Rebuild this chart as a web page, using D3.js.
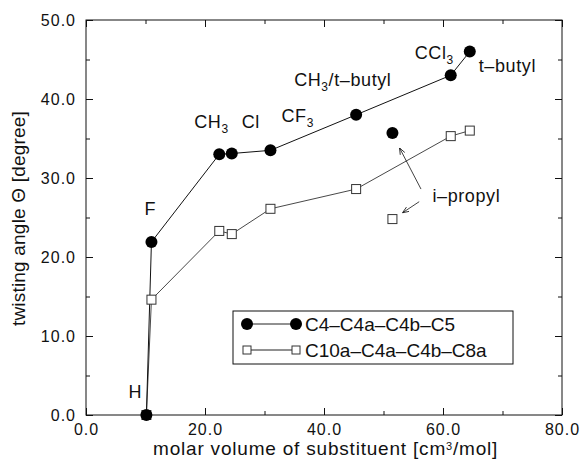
<!DOCTYPE html>
<html>
<head>
<meta charset="utf-8">
<script src="https://cdn.jsdelivr.net/npm/d3@7"></script>
<style>
  body { margin: 0; background: #fff; }
  svg text { font-family: "Liberation Sans", Arial, sans-serif; fill: #111; }
</style>
</head>
<body>
<div id="chart"></div>
<script>
// substituents and their molar volumes (cm3/mol)
const substituents = ["H", "F", "CH3", "Cl", "CF3", "CH3/t-butyl", "CCl3", "t-butyl"];
const molarVolume = [10.15, 11.0, 22.4, 24.5, 31.0, 45.4, 61.3, 64.5];
// twisting angles (degree)
const angleC4C5 = [0.0, 21.9, 33.0, 33.1, 33.5, 38.0, 43.0, 46.0];
const angleC10aC8a = [0.0, 14.6, 23.3, 22.9, 26.1, 28.6, 35.3, 36.0];
// i-propyl, not part of the connected line
const ipropylVolume = 51.5;
const ipropylC4C5 = 35.7;
const ipropylC10aC8a = 24.8;

const xTicks = [0, 20, 40, 60, 80];
const yTicks = [0, 10, 20, 30, 40, 50];
const seriesNames = ["C4\u2013C4a\u2013C4b\u2013C5", "C10a\u2013C4a\u2013C4b\u2013C8a"];

// set the dimensions and margins of the graph
const W = 581, H = 459;
const margin = {top: 20, right: 19, bottom: 44, left: 86};
const width = W - margin.left - margin.right,
      height = H - margin.top - margin.bottom;

const svg = d3.select("#chart")
    .append("svg")
    .attr("width", W)
    .attr("height", H)
    .append("g")
    .attr("transform", `translate(${margin.left}, ${margin.top})`);

const x = d3.scaleLinear().domain([0, 80]).range([0, width]);
const y = d3.scaleLinear().domain([0, 50]).range([height, 0]);

// inward ticks on all four sides
const xMinor = d3.range(0, 81, 10);
const yMinor = d3.range(0, 51, 5);

function tickG(axis, tr) {
    const g = svg.append("g").attr("transform", tr).call(axis);
    g.select(".domain").remove();
    g.selectAll("line").attr("stroke", "#111").attr("stroke-width", 1);
    return g;
}
tickG(d3.axisBottom(x).tickValues(xMinor).tickSize(-4).tickFormat(""), `translate(0,${height})`);
tickG(d3.axisTop(x).tickValues(xMinor).tickSize(-4).tickFormat(""), "translate(0,0)");
tickG(d3.axisLeft(y).tickValues(yMinor).tickSize(-4).tickFormat(""), "translate(0,0)");
tickG(d3.axisRight(y).tickValues(yMinor).tickSize(-4).tickFormat(""), `translate(${width},0)`);

const xAx = tickG(d3.axisBottom(x).tickValues(xTicks).tickSize(-7).tickPadding(9).tickFormat(d3.format(".1f")), `translate(0,${height})`);
tickG(d3.axisTop(x).tickValues(xTicks).tickSize(-7).tickFormat(""), "translate(0,0)");
const yAx = tickG(d3.axisLeft(y).tickValues(yTicks).tickSize(-7).tickPadding(10).tickFormat(d3.format(".1f")), "translate(0,0)");
tickG(d3.axisRight(y).tickValues(yTicks).tickSize(-7).tickFormat(""), `translate(${width},0)`);

xAx.selectAll("text").style("font-size", "16px").style("letter-spacing", "1px").attr("fill", "#111");
yAx.selectAll("text").style("font-size", "16px").style("letter-spacing", "1px").attr("fill", "#111");

// frame
svg.append("rect")
    .attr("width", width).attr("height", height)
    .attr("fill", "none").attr("stroke", "#111").attr("stroke-width", 1);

// axis titles
const xt = svg.append("text")
    .attr("x", 67).attr("y", height + 40)
    .style("font-size", "19px").style("letter-spacing", "0.8px");
xt.append("tspan").text("molar volume of substituent [cm");
xt.append("tspan").attr("dy", -5).style("font-size", "11px").text("3");
xt.append("tspan").attr("dy", 5).text("/mol]");

svg.append("text")
    .attr("transform", `translate(-61, ${height / 2 + 1}) rotate(-90)`)
    .attr("text-anchor", "middle")
    .style("font-size", "19px").style("letter-spacing", "0.2px")
    .text("twisting angle \u0398 [degree]");

// lines
const line = d3.line()
    .x(function(d) { return x(d[0]); })
    .y(function(d) { return y(d[1]); });

const pts1 = molarVolume.map(function(v, i) { return [v, angleC4C5[i]]; });
const pts2 = molarVolume.map(function(v, i) { return [v, angleC10aC8a[i]]; });

svg.append("path").datum(pts2).attr("d", line)
    .attr("fill", "none").attr("stroke", "#333").attr("stroke-width", 0.9);
svg.append("path").datum(pts1).attr("d", line)
    .attr("fill", "none").attr("stroke", "#111").attr("stroke-width", 1);

// open squares
const sq = 9;
svg.selectAll("rect.sq")
    .data(pts2.concat([[ipropylVolume, ipropylC10aC8a]]))
    .join("rect")
    .attr("class", "sq")
    .attr("x", function(d) { return x(d[0]) - sq / 2; })
    .attr("y", function(d) { return y(d[1]) - sq / 2; })
    .attr("width", sq).attr("height", sq)
    .attr("fill", "#fff").attr("stroke", "#333").attr("stroke-width", 1);

// filled circles
svg.selectAll("circle.pt")
    .data(pts1.concat([[ipropylVolume, ipropylC4C5]]))
    .join("circle")
    .attr("class", "pt")
    .attr("cx", function(d) { return x(d[0]); })
    .attr("cy", function(d) { return y(d[1]); })
    .attr("r", 6)
    .attr("fill", "#000");

// labels next to the points
function label(txt, sub, vx, vy, dx, dy) {
    const t = svg.append("text")
        .attr("x", x(vx) + dx).attr("y", y(vy) + dy)
        .style("font-size", "18px").style("letter-spacing", "0.6px");
    t.append("tspan").text(txt);
    if (sub) {
        t.append("tspan").attr("dy", 5).style("font-size", "12px").text(sub);
    }
    return t;
}
label("H", null, molarVolume[0], angleC4C5[0], -18, -17);
label("F", null, molarVolume[1], angleC4C5[1], -7, -27);
label("CH", "3", molarVolume[2], angleC4C5[2], -25, -26);
label("Cl", null, molarVolume[3], angleC4C5[3], 10, -26);
label("CF", "3", molarVolume[4], angleC4C5[4], 11, -28);
const tb = label("CH", "3", molarVolume[5], angleC4C5[5], -62, -29);
tb.append("tspan").attr("dy", -5).text("/t\u2013butyl");
label("CCl", "3", molarVolume[6], angleC4C5[6], -36, -16);
label("t\u2013butyl", null, molarVolume[7], angleC4C5[7], 9, 20);
label("i\u2013propyl", null, ipropylVolume, ipropylC10aC8a, 40, -17);

// arrows for i-propyl
svg.append("defs").append("marker")
    .attr("id", "arr").attr("viewBox", "0 0 10 10")
    .attr("refX", 10).attr("refY", 5)
    .attr("markerWidth", 8).attr("markerHeight", 8)
    .attr("orient", "auto")
    .append("path").attr("d", "M0,1 L10,5 L0,9")
    .attr("fill", "none").attr("stroke", "#111").attr("stroke-width", 1.2);

const arrows = [
    [ipropylVolume + 4.8, ipropylC10aC8a + 3.8, ipropylVolume + 1.2, ipropylC4C5 - 1.9],
    [ipropylVolume + 4.5, ipropylC10aC8a + 2.2, ipropylVolume + 1.7, ipropylC10aC8a + 0.8]
];
svg.selectAll("line.arrow")
    .data(arrows)
    .join("line")
    .attr("class", "arrow")
    .attr("x1", function(d) { return x(d[0]); })
    .attr("y1", function(d) { return y(d[1]); })
    .attr("x2", function(d) { return x(d[2]); })
    .attr("y2", function(d) { return y(d[3]); })
    .attr("stroke", "#111").attr("stroke-width", 0.8)
    .attr("marker-end", "url(#arr)");

// legend
const lg = svg.append("g").attr("transform", `translate(${147}, ${291})`);
lg.append("rect").attr("width", 280).attr("height", 53)
    .attr("fill", "#fff").attr("stroke", "#111").attr("stroke-width", 1);
seriesNames.forEach(function(name, i) {
    const cy = 13 + i * 26;
    lg.append("line").attr("x1", 14).attr("x2", 63).attr("y1", cy).attr("y2", cy)
        .attr("stroke", "#222").attr("stroke-width", 1);
    if (i === 0) {
        [14, 63].forEach(function(cx) {
            lg.append("circle").attr("cx", cx).attr("cy", cy).attr("r", 6).attr("fill", "#000");
        });
    } else {
        [14, 63].forEach(function(cx) {
            lg.append("rect").attr("x", cx - 4).attr("y", cy - 4).attr("width", 8).attr("height", 8)
                .attr("fill", "#fff").attr("stroke", "#333");
        });
    }
    lg.append("text").attr("x", 72).attr("y", cy + 7)
        .style("font-size", "19px").text(name);
});
</script>
</body>
</html>
